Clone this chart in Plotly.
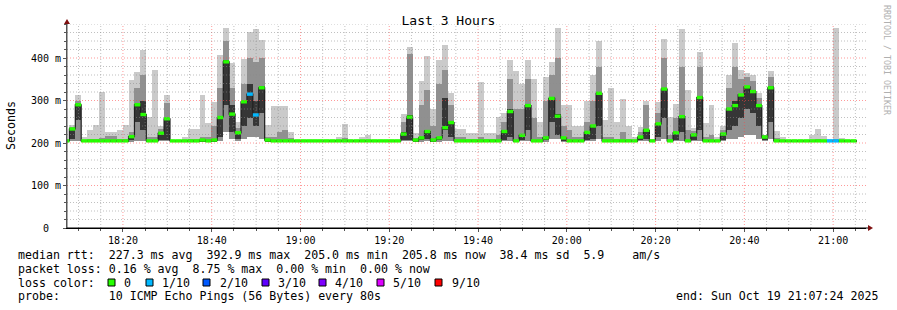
import numpy as np
import pandas as pd
import plotly.graph_objects as go

# ---------------- data (one entry per 80 s sample, first entry is the partial sample at the left edge)
# median rtt (ms)
med = [205,
       233, 290, 205, 205, 205, 205, 205, 205, 205, 205,
       215, 290, 267, 205, 205, 223, 257, 205, 205, 205,
       205, 205, 207, 205, 207, 260, 391, 268, 224, 297,
       315, 266, 330, 207, 205, 205, 205, 205, 205, 205,
       205, 205, 205, 205, 205, 205, 205, 205, 205, 205,
       205, 205, 205, 205, 205, 205, 221, 261, 207, 212,
       227, 207, 212, 236, 248, 205, 205, 205, 205, 205,
       205, 205, 205, 227, 274, 205, 218, 288, 205, 205,
       212, 305, 263, 212, 205, 205, 205, 225, 240, 317,
       205, 205, 205, 205, 205, 205, 214, 230, 205, 245,
       327, 205, 224, 262, 205, 219, 307, 205, 205, 205,
       221, 280, 288, 313, 332, 321, 288, 214, 330, 205,
       205, 205, 205, 205, 205, 205, 205, 205, 205, 205,
       205, 205, 205]
# slowest ping (top of the smoke)
p_max = [205,
         242, 313, 215, 230, 242, 320, 227, 227, 230, 242,
         348, 368, 419, 262, 372, 240, 313, 207, 207, 214,
         232, 232, 313, 246, 297, 407, 470, 388, 250, 398,
         462, 468, 442, 242, 287, 286, 286, 227, 207, 207,
         207, 207, 207, 207, 207, 214, 245, 207, 207, 214,
         219, 207, 207, 207, 207, 207, 268, 426, 223, 347,
         405, 280, 395, 430, 318, 233, 233, 223, 223, 343,
         223, 223, 261, 270, 395, 370, 340, 395, 350, 250,
         355, 390, 470, 290, 290, 240, 240, 300, 360, 440,
         254, 329, 250, 303, 240, 215, 237, 299, 210, 297,
         445, 261, 292, 468, 325, 235, 415, 247, 289, 215,
         240, 360, 435, 372, 365, 360, 317, 220, 370, 228,
         215, 207, 207, 207, 207, 219, 233, 216, 210, 470,
         212, 207, 207]
# upper ping (top of the mid grey smoke)
p_up = [205,
        238, 298, 207, 210, 210, 212, 216, 216, 210, 210,
        225, 330, 360, 215, 215, 232, 295, 205, 205, 207,
        210, 210, 215, 215, 240, 330, 440, 330, 235, 340,
        400, 390, 400, 215, 215, 225, 230, 212, 205, 205,
        205, 205, 205, 205, 205, 207, 212, 205, 205, 207,
        207, 205, 205, 205, 205, 205, 250, 410, 212, 290,
        325, 240, 340, 372, 290, 215, 215, 210, 210, 215,
        210, 210, 220, 250, 350, 280, 280, 350, 260, 215,
        300, 360, 400, 240, 230, 215, 215, 250, 300, 380,
        215, 215, 210, 227, 210, 207, 225, 290, 207, 270,
        400, 220, 260, 380, 230, 228, 380, 215, 220, 207,
        230, 330, 380, 350, 355, 345, 305, 218, 355, 212,
        207, 205, 205, 205, 205, 207, 210, 207, 207, 210,
        207, 205, 205]
# fastest ping (bottom of the smoke)
p_min = [203,
         205, 205, 203, 203, 203, 203, 203, 203, 203, 203,
         203, 205, 205, 203, 203, 205, 205, 203, 203, 203,
         203, 203, 203, 203, 203, 205, 225, 210, 205, 210,
         215, 215, 210, 203, 203, 203, 203, 203, 203, 203,
         203, 203, 203, 203, 203, 203, 203, 203, 203, 203,
         203, 203, 203, 203, 203, 203, 205, 205, 203, 203,
         205, 203, 203, 205, 205, 203, 203, 203, 203, 203,
         203, 203, 203, 205, 205, 203, 205, 205, 203, 203,
         203, 210, 210, 203, 203, 203, 203, 205, 205, 210,
         203, 203, 203, 203, 203, 203, 205, 205, 203, 205,
         210, 203, 205, 205, 203, 205, 205, 203, 203, 203,
         205, 210, 210, 215, 220, 220, 210, 205, 210, 203,
         203, 203, 203, 203, 203, 203, 203, 203, 203, 203,
         203, 203, 203]
# dark core of the smoke (5th and 6th ping)
core_lo = [204,
           210, 255, 204, 204, 204, 204, 204, 204, 204, 204,
           208, 250, 230, 204, 204, 206, 207, 204, 204, 204,
           204, 204, 204, 204, 204, 215, 290, 225, 210, 240,
           260, 240, 270, 204, 204, 204, 204, 204, 204, 204,
           204, 204, 204, 204, 204, 204, 204, 204, 204, 204,
           204, 204, 204, 204, 204, 204, 207, 207, 204, 206,
           210, 204, 206, 230, 215, 204, 204, 204, 204, 204,
           204, 204, 204, 208, 215, 204, 207, 230, 204, 204,
           206, 250, 220, 204, 204, 204, 204, 208, 210, 240,
           204, 204, 204, 204, 204, 204, 207, 210, 204, 215,
           260, 204, 208, 225, 204, 207, 230, 204, 204, 204,
           207, 230, 240, 260, 280, 270, 240, 207, 250, 204,
           204, 204, 204, 204, 204, 204, 204, 204, 204, 204,
           204, 204, 204]
core_hi = [206,
           236, 292, 206, 206, 206, 206, 206, 206, 206, 206,
           217, 292, 300, 206, 206, 225, 258, 206, 206, 206,
           206, 206, 208, 206, 208, 262, 395, 290, 226, 300,
           340, 300, 335, 208, 206, 206, 206, 206, 206, 206,
           206, 206, 206, 206, 206, 206, 206, 206, 206, 206,
           206, 206, 206, 206, 206, 206, 225, 265, 208, 214,
           230, 208, 215, 305, 250, 206, 206, 206, 206, 206,
           206, 206, 206, 230, 280, 206, 220, 292, 206, 206,
           215, 308, 268, 214, 206, 206, 206, 227, 242, 320,
           206, 206, 206, 206, 206, 206, 216, 232, 206, 248,
           330, 206, 226, 265, 206, 222, 310, 206, 206, 206,
           223, 283, 300, 316, 335, 324, 291, 216, 333, 206,
           206, 206, 206, 206, 206, 206, 206, 206, 206, 206,
           206, 206, 206]
# lost pings out of 10
loss = [0] * len(med)
for _i in (31, 32, 129, 130):
    loss[_i] = 1

loss_levels = [0, 1, 2, 3, 4, 5, 9]
loss_labels = ["0", "1/10", "2/10", "3/10", "4/10", "5/10", "9/10"]
loss_colors = ["#26ff00", "#00b8ff", "#0059ff", "#5e00ff", "#7e00ff", "#dd00ff", "#ff0000"]

y_tickvals = [0, 100, 200, 300, 400]
y_ticktext = ["\u00a0\u00a00\u00a0\u00a0", "100 m", "200 m", "300 m", "400 m"]

stats_lines = [
    "median rtt:  227.3 ms avg  392.9 ms max  205.0 ms min  205.8 ms now  38.4 ms sd  5.9    am/s",
    "packet loss: 0.16 % avg  8.75 % max  0.00 % min  0.00 % now",
    "loss color:",
    "probe:       10 ICMP Echo Pings (56 Bytes) every 80s",
]
end_text = "end: Sun Oct 19 21:07:24 2025"

# ---------------- layout geometry
W, H = 897, 310
L, R, T, B = 67, 31, 24, 82
PW = W - L - R
PH = H - T - B
MONO = "DejaVu Sans Mono"
Y_MAX = 480


def px(x):
    return (x - L) / PW


def py(y):
    return (H - B - y) / PH


start = pd.Timestamp("2025-10-19 18:06:36")
x_lo = pd.Timestamp("2025-10-19 18:07:24")
x_hi = pd.Timestamp("2025-10-19 21:07:24")
n = len(med)
t0 = start + pd.to_timedelta(np.arange(n) * 80, unit="s")
tc = t0 + pd.Timedelta(seconds=40)
t_end = t0[-1] + pd.Timedelta(seconds=80)

fig = go.Figure()


def band(lo, hi, color):
    lo = np.asarray(lo, float)
    hi = np.asarray(hi, float)
    fig.add_trace(go.Bar(x=tc, base=lo, y=hi - lo, width=80000,
                         marker=dict(color=color, line=dict(width=0)),
                         hoverinfo="skip", showlegend=False))


band(p_min, p_max, "#cacaca")
band(p_min, p_up, "#909090")
band(core_lo, core_hi, "#363636")

# median step line
fig.add_trace(go.Scatter(x=list(t0) + [t_end], y=med + [med[-1]], mode="lines",
                         line=dict(color="#202020", width=1.2, shape="hv"),
                         hoverinfo="skip", showlegend=False))

# loss-coloured median markers (drawn as short thick segments above the line)
for lvl, col in zip(loss_levels, loss_colors):
    xs, ys = [], []
    for i in range(n):
        if loss[i] == lvl:
            xs += [t0[i], t0[i] + pd.Timedelta(seconds=80), None]
            ys += [med[i], med[i], None]
    if xs:
        fig.add_trace(go.Scatter(x=xs, y=ys, mode="lines", line=dict(color=col, width=3.4),
                                 hoverinfo="skip", showlegend=False))

fig.update_layout(
    width=W, height=H, margin=dict(l=L, r=R, t=T, b=B),
    paper_bgcolor="white", plot_bgcolor="white",
    barmode="overlay", bargap=0, showlegend=False, hovermode=False,
    title=dict(text="Last 3 Hours", x=0.5, xref="container", xanchor="center",
               y=1 - 20 / H, yref="container", yanchor="middle",
               font=dict(family=MONO, size=13, color="black")),
    xaxis=dict(type="date", range=[x_lo, x_hi],
               tickformat="%H:%M", tick0="2025-10-19 18:20:00", dtick=1200000,
               showgrid=False,
               minor=dict(dtick=300000, showgrid=False, ticks="outside", ticklen=2, tickcolor="#555"),
               showline=True, linecolor="black", linewidth=1,
               ticks="outside", ticklen=3, tickcolor="#555",
               tickfont=dict(family=MONO, size=10, color="black"), zeroline=False),
    yaxis=dict(range=[0, Y_MAX], tickvals=y_tickvals, ticktext=y_ticktext,
               showgrid=False,
               minor=dict(dtick=20, showgrid=False, ticks="outside", ticklen=2, tickcolor="#555"),
               showline=True, linecolor="#555", linewidth=1,
               ticks="outside", ticklen=3, tickcolor="#555",
               tickfont=dict(family=MONO, size=10, color="black"), zeroline=False),
)

shapes = []
grid_major = "rgba(255,70,70,0.55)"
grid_minor = "rgba(140,140,140,0.55)"
# grid drawn above the smoke, as rrdtool does
for m in range(5, 181, 5):
    t = x_lo.floor("5min") + pd.Timedelta(minutes=m)
    if t >= x_hi:
        break
    major = (t.minute % 20 == 0)
    shapes.append(dict(type="line", xref="x", yref="y", x0=t, x1=t, y0=0, y1=Y_MAX, layer="above",
                       line=dict(color=grid_major if major else grid_minor, width=1, dash="1px,2px")))
for v in range(20, Y_MAX + 1, 20):
    major = (v % 100 == 0)
    shapes.append(dict(type="line", xref="paper", yref="y", x0=0, x1=1, y0=v, y1=v, layer="above",
                       line=dict(color=grid_major if major else grid_minor, width=1, dash="1px,2px")))

ann = []
ann.append(dict(text="Seconds", x=px(11), y=py(126), xref="paper", yref="paper",
                textangle=-90, showarrow=False, xanchor="center", yanchor="middle",
                font=dict(family=MONO, size=11.6, color="black")))
ann.append(dict(text="RRDTOOL / TOBI OETIKER", x=px(887), y=py(60), xref="paper", yref="paper",
                textangle=90, showarrow=False, xanchor="center", yanchor="middle",
                font=dict(family=MONO, size=8.3, color="#b0b0b0")))
line_y = [255, 268.8, 282.6, 296.4]
for txt, yy in zip(stats_lines, line_y):
    ann.append(dict(text=txt.replace(" ", "\u00a0"), x=px(16), y=py(yy), xref="paper", yref="paper",
                    showarrow=False, xanchor="left", yanchor="middle",
                    font=dict(family=MONO, size=11.6, color="black")))
ann.append(dict(text=end_text.replace(" ", "\u00a0"), x=px(880), y=py(line_y[3]), xref="paper",
                yref="paper", showarrow=False, xanchor="right", yanchor="middle",
                font=dict(family=MONO, size=11.6, color="black")))

sq_x = [108, 146, 203, 262, 319, 377, 435]
lab_x = [122, 160, 218, 276, 333, 391, 450]
for sx, lx, lab, col in zip(sq_x, lab_x, loss_labels, loss_colors):
    shapes.append(dict(type="rect", xref="paper", yref="paper",
                       x0=px(sx), x1=px(sx + 7), y0=py(279), y1=py(286),
                       fillcolor=col, line=dict(color="black", width=1)))
    ann.append(dict(text=lab, x=px(lx), y=py(line_y[2]), xref="paper", yref="paper",
                    showarrow=False, xanchor="left", yanchor="middle",
                    font=dict(family=MONO, size=11.6, color="black")))

arrow_col = "#7f1010"
shapes.append(dict(type="line", xref="paper", yref="paper", x0=px(67), x1=px(67),
                   y0=py(228), y1=py(22), line=dict(color="#555", width=1)))
shapes.append(dict(type="path", xref="paper", yref="paper",
                   path=f"M {px(64)} {py(24)} L {px(70)} {py(24)} L {px(67)} {py(19)} Z",
                   fillcolor=arrow_col, line=dict(width=0)))
shapes.append(dict(type="line", xref="paper", yref="paper", x0=px(67), x1=px(869),
                   y0=py(228), y1=py(228), line=dict(color="black", width=1)))
shapes.append(dict(type="path", xref="paper", yref="paper",
                   path=f"M {px(868)} {py(225)} L {px(868)} {py(231)} L {px(873)} {py(228)} Z",
                   fillcolor=arrow_col, line=dict(width=0)))

fig.update_layout(annotations=ann, shapes=shapes)
fig.write_html("out.html")
